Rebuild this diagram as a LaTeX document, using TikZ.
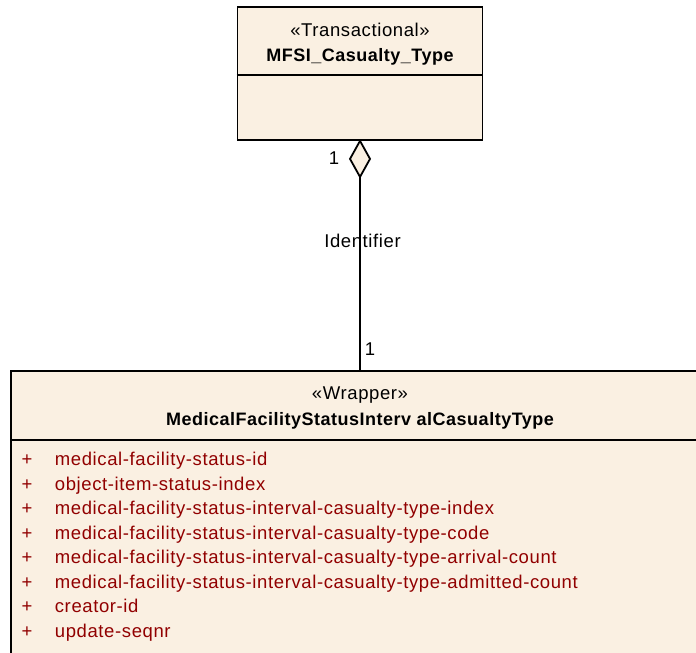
\documentclass[tikz,border=0pt]{standalone}
\usepackage{fontspec}
\setmainfont{Liberation Sans}
\newfontfamily\umlfont[LetterSpace=3.3]{Liberation Sans}
\newfontfamily\umltitlefont[LetterSpace=2.8]{Liberation Sans}
\definecolor{classfill}{RGB}{250,240,226}
\definecolor{attrred}{RGB}{145,0,0}
\begin{document}
\begin{tikzpicture}[x=1pt, y=-1pt, line width=1.8pt,
  classbox/.style={draw, fill=classfill, inner sep=0pt},
  stereo/.style={anchor=base, inner sep=0pt, font=\umlfont\fontsize{18.5}{21}\selectfont},
  classname/.style={anchor=base, inner sep=0pt, font=\umltitlefont\bfseries\fontsize{18}{21}\selectfont},
  attr/.style={anchor=base west, inner sep=0pt, text=attrred, font=\umlfont\fontsize{18.5}{21}\selectfont},
  role/.style={anchor=base, inner sep=0pt, font=\umlfont\fontsize{18.5}{21}\selectfont}]

  % Fix the page to the reference size
  \useasboundingbox (0,0) rectangle (696,653);
  \clip (0,0) rectangle (696,653);

  % The aggregating class
  \node[classbox, minimum width=245pt, minimum height=133pt] (mfsi) at (360,73.5) {};
  \draw ([yshift=-69pt]mfsi.north west) -- ([yshift=-69pt]mfsi.north east);
  \node[stereo] (mfsistereo) at (360,36) {«Transactional»};
  \node[classname] (mfsiname) at (360,61) {MFSI\_Casualty\_Type};

  % The wrapper class (runs off the page to the right and below)
  \node[classbox, minimum width=698pt, minimum height=320pt] (wrapper) at (360,531) {};
  \draw ([yshift=-70pt]wrapper.north west) -- ([yshift=-70pt]wrapper.north east);
  \node[stereo] (wrapperstereo) at (360,399) {«Wrapper»};
  \node[classname] (wrappername) at (360,425) {MedicalFacilityStatusInterv alCasualtyType};

  % Attributes
  \foreach \attrname [count=\i] in {medical-facility-status-id, object-item-status-index,
      medical-facility-status-interval-casualty-type-index,
      medical-facility-status-interval-casualty-type-code,
      medical-facility-status-interval-casualty-type-arrival-count,
      medical-facility-status-interval-casualty-type-admitted-count,
      creator-id, update-seqnr} {
    \node[attr, anchor=base] (plus\i) at (27,441.5+24.45*\i) {+};
    \node[attr] (attr\i) at (54,441.5+24.45*\i) {\attrname};
  }

  % Aggregation: diamond on the whole, line down to the part
  \draw[fill=classfill] (mfsi.south) -- ++(10,18) -- ++(-10,18) coordinate (dbottom)
    -- ++(-10,-18) -- cycle;
  \draw (dbottom) -- (wrapper.north);

  % Multiplicities and role name
  \node[role] (multtop) at (334,164) {1};
  \node[role] (rolename) at (362.5,247.5) {Identifier};
  \node[role] (multbottom) at (370,355.5) {1};

\end{tikzpicture}
\end{document}
